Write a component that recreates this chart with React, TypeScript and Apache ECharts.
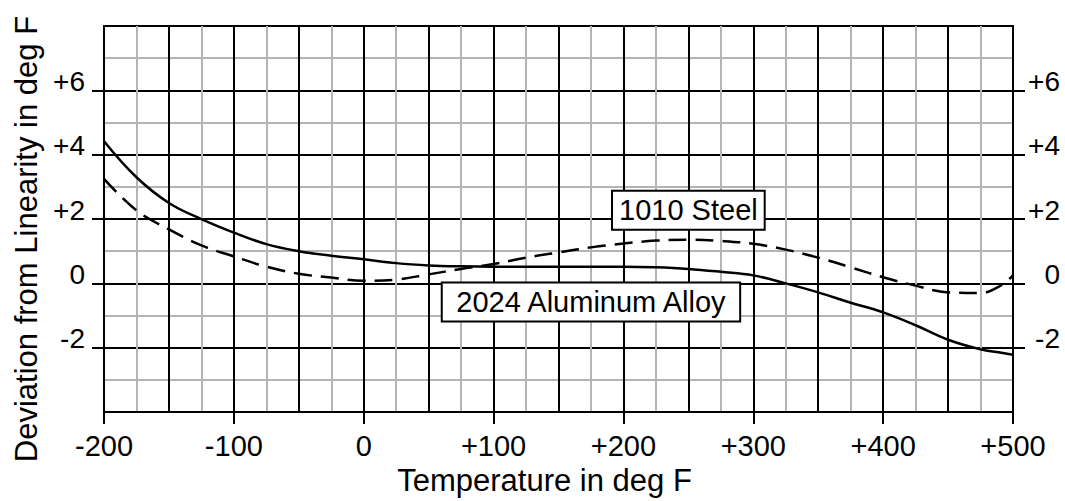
import React, { useEffect, useRef } from "react";
import * as echarts from "echarts";

// Temperature samples (deg F) shared by both curves
const temperatures = [
  -200, -175, -150, -125, -100, -75, -50, -25, 0, 25, 50, 75, 100, 125, 150,
  175, 200, 225, 250, 275, 300, 325, 350, 375, 400, 425, 450, 475, 490, 500,
];

// 2024 Aluminum Alloy deviation from linearity (deg F)
const aluminumValues = [
  4.42, 3.3, 2.5, 2.0, 1.58, 1.22, 1.0, 0.86, 0.75, 0.63, 0.56, 0.53, 0.52,
  0.52, 0.52, 0.52, 0.52, 0.5, 0.45, 0.36, 0.25, 0.0, -0.28, -0.6, -0.9, -1.3,
  -1.75, -2.05, -2.15, -2.22,
];

// 1010 Steel deviation from linearity (deg F)
const steelValues = [
  3.25, 2.27, 1.68, 1.18, 0.84, 0.52, 0.3, 0.18, 0.08, 0.12, 0.28, 0.45, 0.6,
  0.8, 0.96, 1.12, 1.24, 1.33, 1.36, 1.32, 1.23, 1.05, 0.8, 0.5, 0.19, -0.07,
  -0.28, -0.3, -0.08, 0.25,
];

// Labelled ticks on the deviation axes
const yTickValues = [-2, 0, 2, 4, 6];

// Curve captions and where they sit (data coordinates)
const steelName = "1010 Steel";
const aluminumName = "2024 Aluminum Alloy";
const steelCaptionAt = [250, 2.27];
const aluminumCaptionAt = [175, -0.58];

const FONT = "'Liberation Sans', Arial, sans-serif";
const signed = (v: number) => (v > 0 ? "+" + v : String(v));

export default function App() {
  const ref = useRef<HTMLDivElement>(null);

  useEffect(() => {
    document.body.style.margin = "0";
    const chart = echarts.init(ref.current!, null, { renderer: "svg" });

    const pair = (vals: number[]) => temperatures.map((t, i) => [t, vals[i]]);

    const captionLabel = (padH: number) => ({
      show: true,
      color: "#000",
      fontFamily: FONT,
      fontSize: 29,
      lineHeight: 32,
      backgroundColor: "#fff",
      borderColor: "#000",
      borderWidth: 2,
      padding: [3, padH, 2, padH],
      position: "inside",
    });

    const blackLine = { color: "#000", width: 2 };
    const grayLine = { color: "#b4b4b4", width: 2 };

    const yAxisCommon = {
      type: "value",
      min: -4,
      max: 8,
      interval: 2,
      axisLine: { show: true, onZero: false, lineStyle: blackLine },
      axisTick: {
        show: true,
        inside: false,
        customValues: yTickValues,
        length: 12,
        lineStyle: blackLine,
      },
    };

    const yLabel = (margin: number, align?: string) => ({
      customValues: yTickValues,
      formatter: signed,
      color: "#000",
      fontFamily: FONT,
      fontSize: 28,
      margin,
      align,
      verticalAlign: "bottom",
      lineHeight: 18,
    });

    chart.setOption({
      animation: false,
      grid: {
        left: 104,
        right: 52,
        top: 26,
        bottom: 88,
        show: true,
        borderColor: "#000",
        borderWidth: 2,
      },
      xAxis: [
        {
          // labelled temperature axis, ticks every 100
          type: "value",
          min: -200,
          max: 500,
          interval: 100,
          name: "Temperature in deg F",
          nameLocation: "middle",
          nameGap: 52,
          nameTextStyle: {
            color: "#000",
            fontFamily: FONT,
            fontSize: 31,
            padding: [0, 28, 0, 0],
          },
          axisLine: { show: true, onZero: false, lineStyle: blackLine },
          axisTick: { show: true, inside: false, length: 12, lineStyle: blackLine },
          axisLabel: {
            formatter: signed,
            color: "#000",
            fontFamily: FONT,
            fontSize: 29,
            margin: 19,
          },
          splitLine: { show: false },
        },
        {
          // grid lines every 50 with light lines every 25
          type: "value",
          min: -200,
          max: 500,
          interval: 50,
          position: "bottom",
          axisLine: { show: false, onZero: false },
          axisTick: { show: false },
          axisLabel: { show: false },
          splitLine: { show: true, lineStyle: blackLine },
          minorTick: { show: false, splitNumber: 2 },
          minorSplitLine: { show: true, lineStyle: grayLine },
        },
      ],
      yAxis: [
        {
          ...yAxisCommon,
          position: "left",
          name: "Deviation from Linearity in deg F",
          nameLocation: "middle",
          nameGap: 62,
          nameRotate: 90,
          nameTextStyle: {
            color: "#000",
            fontFamily: FONT,
            fontSize: 31,
            padding: [0, 40, 0, 0],
          },
          axisLabel: yLabel(19),
          splitLine: { show: true, lineStyle: blackLine },
          minorTick: { show: false, splitNumber: 2 },
          minorSplitLine: { show: true, lineStyle: grayLine },
        },
        {
          ...yAxisCommon,
          position: "right",
          axisLabel: yLabel(47, "right"),
          splitLine: { show: false },
        },
      ],
      series: [
        {
          name: aluminumName,
          type: "line",
          xAxisIndex: 0,
          data: pair(aluminumValues),
          smooth: 0.4,
          showSymbol: false,
          lineStyle: { color: "#000", width: 2.5 },
          markPoint: {
            symbol: "rect",
            symbolSize: 0,
            label: captionLabel(12),
            data: [{ coord: aluminumCaptionAt, value: aluminumName }],
          },
          z: 3,
        },
        {
          name: steelName,
          type: "line",
          xAxisIndex: 0,
          data: pair(steelValues),
          smooth: 0.4,
          showSymbol: false,
          lineStyle: { color: "#000", width: 2.5, type: [18, 9] },
          markPoint: {
            symbol: "rect",
            symbolSize: 0,
            label: captionLabel(6),
            data: [{ coord: steelCaptionAt, value: steelName }],
          },
          z: 3,
        },
      ],
    });

    return () => chart.dispose();
  }, []);

  return <div ref={ref} style={{ width: 1065, height: 501 }} />;
}
